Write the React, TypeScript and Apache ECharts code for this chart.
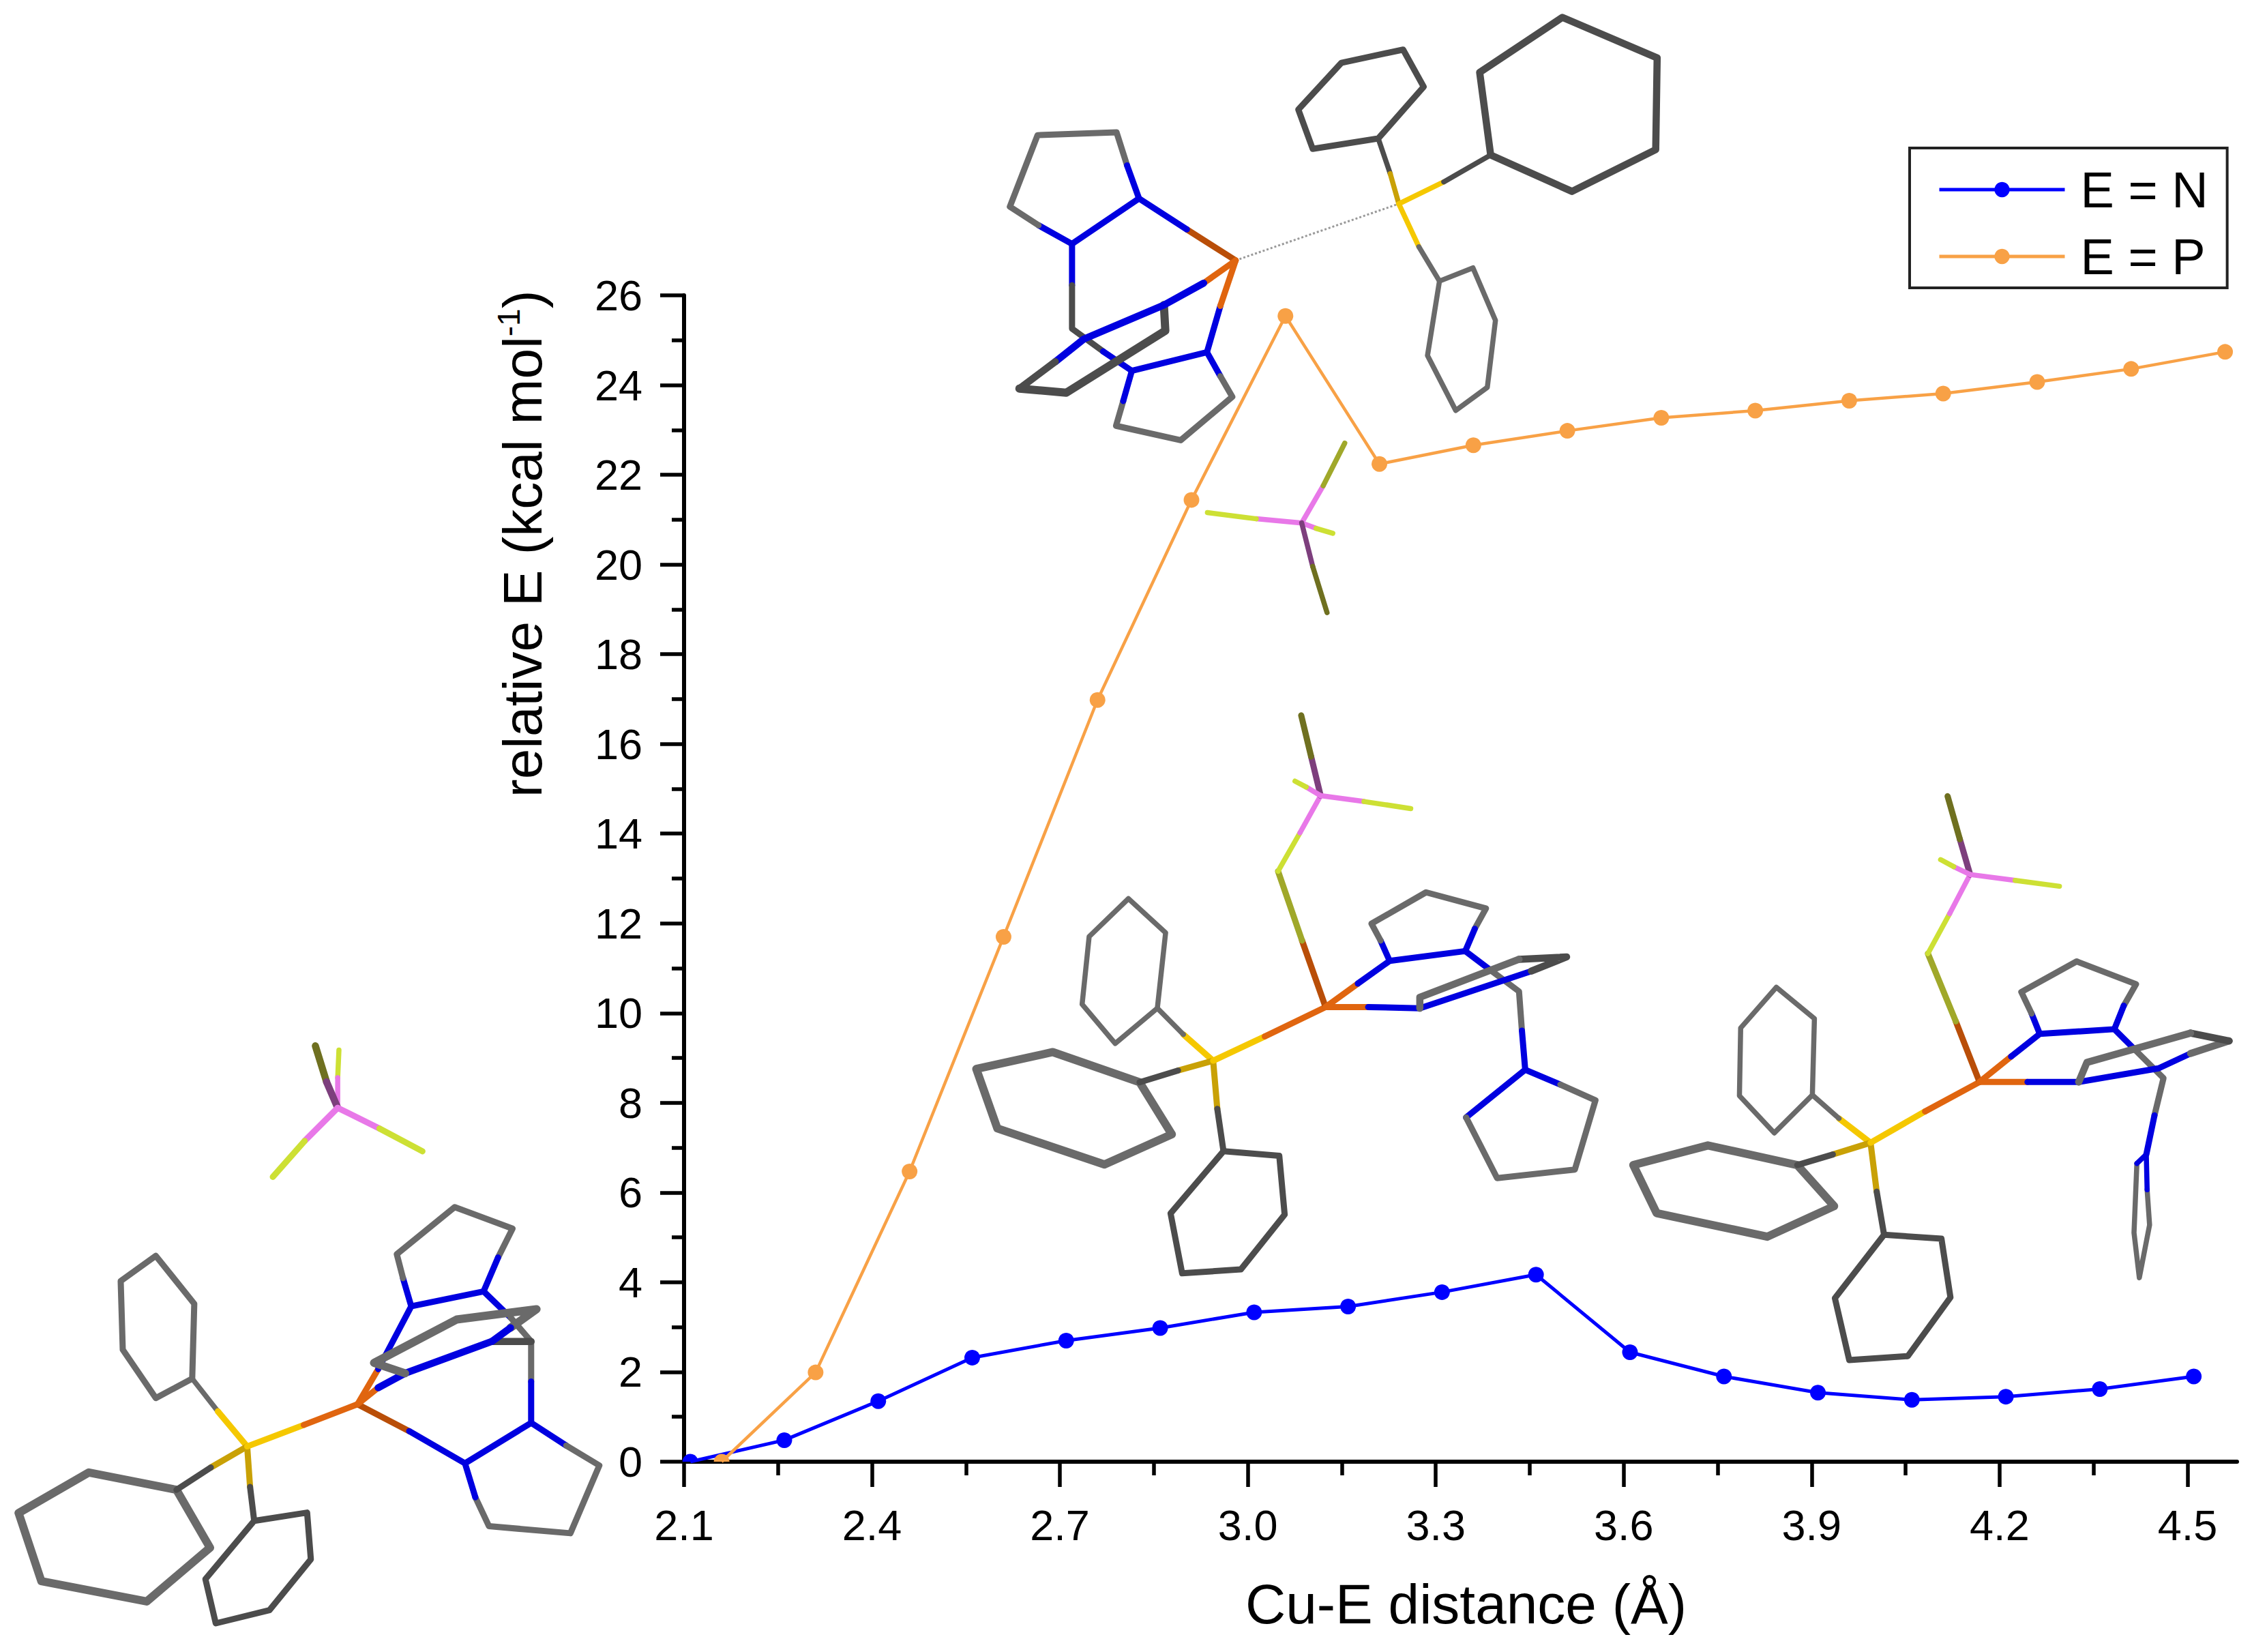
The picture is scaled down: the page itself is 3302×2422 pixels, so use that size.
import React, { useEffect, useRef } from "react";
import * as echarts from "echarts";

const FONT = "Liberation Sans";
const xTickLabels = [2.1, 2.4, 2.7, 3.0, 3.3, 3.6, 3.9, 4.2, 4.5];
const xMinorTicks = [2.25, 2.55, 2.85, 3.15, 3.45, 3.75, 4.05, 4.35];

const nDistance = [2.11, 2.26, 2.41, 2.56, 2.71, 2.86, 3.01, 3.16, 3.31, 3.46, 3.61, 3.76, 3.91, 4.06, 4.21, 4.36, 4.51];
const nEnergy = [0, 0.48, 1.35, 2.32, 2.7, 2.98, 3.33, 3.46, 3.78, 4.17, 2.44, 1.9, 1.54, 1.38, 1.45, 1.62, 1.9];
const pDistance = [2.16, 2.31, 2.46, 2.61, 2.76, 2.91, 3.06, 3.21, 3.36, 3.51, 3.66, 3.81, 3.96, 4.11, 4.26, 4.41, 4.56];
const pEnergy = [0, 1.99, 6.47, 11.7, 16.98, 21.44, 25.54, 22.24, 22.66, 22.98, 23.27, 23.43, 23.65, 23.81, 24.07, 24.36, 24.74];

// Palette of the molecule drawings
const G = "#6a6a6a", D = "#4c4c4c", B = "#0000e0", O = "#e0650f", R = "#b94e08";
const Y = "#f5c800", A = "#c9a106", P = "#e878e8", V = "#7d3f7d", L = "#cde034", W = "#6f7020", H = "#a0a82a";
const BOND_SCALE = 1.5;
type Chain = [string, number, number[][]];

// Each molecule is traced in its own local frame: origin and scale map it onto the page.
const moleculeA: Chain[] = [
  [L, 5, [[817, 165], [820, 98]]], [P, 5, [[817, 238], [817, 165]]],
  [W, 7, [[790, 175], [763, 88]]], [V, 7, [[817, 238], [790, 175]]],
  [P, 6, [[817, 238], [737, 318]]], [L, 6, [[737, 318], [660, 405]]],
  [P, 6, [[817, 238], [918, 288]]], [L, 6, [[918, 288], [1022, 343]]],
  [G, 6, [[465, 893], [470, 712], [377, 596], [292, 657], [297, 823], [377, 940], [465, 893]]],
  [G, 5, [[465, 893], [527, 972]]], [Y, 6, [[527, 972], [598, 1057]]],
  [G, 8, [[427, 1162], [215, 1120], [45, 1218], [100, 1383], [355, 1432], [508, 1302], [427, 1162]]],
  [A, 6, [[598, 1057], [510, 1108]]], [D, 6, [[510, 1108], [427, 1162]]],
  [D, 6, [[615, 1237], [743, 1217], [752, 1330], [652, 1453], [522, 1485], [497, 1378], [615, 1237]]],
  [A, 6, [[598, 1057], [605, 1155]]], [D, 6, [[605, 1155], [615, 1237]]],
  [Y, 6, [[598, 1057], [735, 1005]]], [O, 6, [[735, 1005], [865, 955]]],
  [R, 6, [[865, 955], [990, 1020]]], [B, 6, [[990, 1020], [1125, 1098]]],
  [O, 6, [[865, 955], [915, 870]]], [B, 6, [[915, 870], [995, 718], [1170, 682], [1235, 745]]],
  [G, 6, [[1235, 745], [1285, 803], [1285, 900]]], [B, 6, [[1285, 900], [1285, 1000], [1125, 1098]]],
  [O, 6, [[865, 955], [915, 915]]], [B, 7, [[915, 915], [980, 880], [1190, 803]]], [D, 7, [[1190, 803], [1285, 803]]],
  [B, 6, [[995, 718], [975, 650]]], [G, 6, [[975, 650], [960, 592], [1100, 478], [1240, 530], [1205, 600]]], [B, 6, [[1205, 600], [1170, 682]]],
  [B, 6, [[1285, 1000], [1370, 1055]]], [G, 6, [[1370, 1055], [1450, 1103], [1380, 1267], [1183, 1250], [1150, 1180]]], [B, 6, [[1150, 1180], [1125, 1098]]],
  [G, 8, [[980, 880], [905, 855], [1105, 750], [1298, 725], [1235, 770]]], [B, 7, [[1235, 770], [1190, 803]]],
];
const moleculeB: Chain[] = [
  [D, 7, [[1120, 375], [1097, 175], [1270, 42], [1468, 140], [1465, 362], [1290, 463], [1120, 375]]],
  [D, 6, [[885, 335], [980, 210], [937, 120], [808, 152], [718, 265], [748, 360], [885, 335]]],
  [G, 5, [[1013, 680], [1083, 648], [1130, 775], [1113, 937], [1047, 993], [988, 860], [1013, 680]]],
  [D, 5, [[885, 335], [910, 420]]], [A, 5, [[910, 420], [928, 493]]],
  [Y, 5, [[928, 493], [1022, 440]]], [D, 5, [[1022, 440], [1120, 375]]],
  [Y, 5, [[928, 493], [970, 597]]], [G, 5, [[970, 597], [1013, 680]]],
  [R, 6, [[587, 630], [485, 555]]], [B, 6, [[485, 555], [385, 480], [245, 590], [175, 545]]],
  [G, 6, [[175, 545], [115, 500], [173, 327], [338, 320], [360, 400]]], [B, 6, [[360, 400], [385, 480]]],
  [B, 6, [[245, 590], [245, 690]]], [D, 6, [[245, 690], [245, 795], [310, 850]]], [B, 6, [[310, 850], [370, 897], [527, 852], [555, 740]]],
  [O, 6, [[555, 740], [587, 630]]],
  [B, 6, [[527, 852], [555, 910]]], [G, 6, [[555, 910], [580, 960], [472, 1065], [337, 1030], [352, 970]]], [B, 6, [[352, 970], [370, 897]]],
  [D, 8, [[135, 940], [233, 950], [440, 800], [437, 738]]],
  [O, 6, [[587, 630], [520, 685]]], [B, 7, [[520, 685], [437, 738], [270, 820], [210, 875]]], [D, 7, [[210, 875], [135, 940]]],
  [P, 5, [[725, 1265], [630, 1255]]], [L, 5, [[630, 1255], [528, 1240]]],
  [P, 5, [[725, 1265], [770, 1175]]], [H, 5, [[770, 1175], [815, 1072]]],
  [P, 5, [[725, 1265], [755, 1278]]], [L, 5, [[755, 1278], [790, 1290]]],
  [V, 5, [[725, 1265], [748, 1370]]], [W, 5, [[748, 1370], [778, 1482]]],
];
const moleculeC: Chain[] = [
  [G, 5, [[490, 833], [510, 640], [420, 553], [325, 650], [308, 823], [388, 923], [490, 833]]],
  [G, 8, [[447, 1022], [237, 945], [52, 988], [103, 1140], [362, 1232], [525, 1155], [447, 1022]]],
  [D, 6, [[650, 1198], [785, 1210], [798, 1360], [692, 1500], [550, 1510], [522, 1357], [650, 1198]]],
  [Y, 6, [[625, 967], [553, 900]]], [G, 5, [[553, 900], [490, 833]]],
  [A, 6, [[625, 967], [540, 992]]], [D, 6, [[540, 992], [447, 1022]]],
  [A, 6, [[625, 967], [635, 1090]]], [D, 6, [[635, 1090], [650, 1198]]],
  [Y, 6, [[625, 967], [750, 905]]], [O, 6, [[750, 905], [897, 830]]],
  [R, 6, [[897, 830], [840, 660]]], [H, 6, [[840, 660], [782, 483]]],
  [L, 5, [[782, 483], [835, 385]]], [P, 5, [[835, 385], [885, 290]]],
  [V, 6, [[885, 290], [862, 190]]], [W, 6, [[862, 190], [838, 85]]],
  [P, 5, [[885, 290], [850, 268]]], [L, 5, [[850, 268], [823, 253]]],
  [P, 5, [[885, 290], [990, 305]]], [L, 5, [[990, 305], [1103, 323]]],
  [O, 6, [[897, 830], [975, 770]]], [B, 6, [[975, 770], [1052, 712], [1235, 687], [1295, 735]]],
  [G, 6, [[1295, 735], [1365, 790], [1372, 890]]], [B, 6, [[1372, 890], [1380, 990], [1237, 1112]]],
  [B, 6, [[1052, 712], [1030, 660]]], [G, 6, [[1030, 660], [1008, 617], [1140, 537], [1285, 578], [1258, 630]]], [B, 6, [[1258, 630], [1235, 687]]],
  [B, 6, [[1380, 990], [1465, 1028]]], [G, 6, [[1465, 1028], [1550, 1068], [1500, 1245], [1312, 1267], [1237, 1112]]],
  [O, 6, [[897, 830], [1000, 830]]], [B, 6, [[1000, 830], [1125, 833], [1395, 738]]],
  [D, 7, [[1395, 738], [1480, 702], [1365, 708]]], [G, 7, [[1365, 708], [1125, 805], [1125, 833]]],
];
const moleculeD: Chain[] = [
  [G, 5, [[495, 828], [500, 633], [407, 553], [320, 657], [317, 830], [402, 925], [495, 828]]],
  [G, 8, [[458, 1007], [240, 957], [58, 1007], [115, 1130], [385, 1190], [548, 1112], [458, 1007]]],
  [D, 6, [[670, 1185], [810, 1195], [832, 1345], [728, 1495], [585, 1505], [550, 1347], [670, 1185]]],
  [Y, 6, [[637, 950], [560, 888]]], [G, 5, [[560, 888], [495, 828]]],
  [A, 6, [[637, 950], [545, 980]]], [D, 6, [[545, 980], [458, 1007]]],
  [A, 6, [[637, 950], [652, 1075]]], [D, 6, [[652, 1075], [670, 1185]]],
  [Y, 6, [[637, 950], [770, 870]]], [O, 6, [[770, 870], [903, 795]]],
  [R, 6, [[903, 795], [845, 640]]], [H, 6, [[845, 640], [777, 467]]],
  [L, 5, [[777, 467], [830, 365]]], [P, 5, [[830, 365], [880, 265]]],
  [V, 6, [[880, 265], [855, 175]]], [W, 6, [[855, 175], [825, 65]]],
  [P, 5, [[880, 265], [840, 245]]], [L, 5, [[840, 245], [808, 227]]],
  [P, 5, [[880, 265], [990, 280]]], [L, 5, [[990, 280], [1098, 295]]],
  [O, 6, [[903, 795], [980, 730]]], [B, 6, [[980, 730], [1050, 672], [1232, 660], [1280, 710]]],
  [G, 6, [[1280, 710], [1352, 785], [1330, 880]]], [B, 6, [[1330, 880], [1310, 980]]],
  [B, 6, [[1050, 672], [1030, 620]]], [G, 6, [[1030, 620], [1005, 565], [1140, 487], [1285, 545], [1255, 600]]], [B, 6, [[1255, 600], [1232, 660]]],
  [G, 5, [[1287, 1003], [1280, 1180], [1293, 1295], [1318, 1160], [1312, 1070]]], [B, 5, [[1312, 1070], [1310, 980], [1287, 1003]]],
  [O, 6, [[903, 795], [1020, 795]]], [B, 6, [[1020, 795], [1145, 795], [1340, 760], [1418, 722]]],
  [G, 7, [[1418, 722], [1512, 690]]], [D, 7, [[1512, 690], [1418, 670]]], [G, 7, [[1418, 670], [1165, 745], [1145, 795]]],
];
const placedMolecules: [Chain[], number, number, number, number][] = [
  [moleculeA, 0, 1480, 1.65, 1.65],
  [moleculeB, 1400, 0, 1.4255, 1.65],
  [moleculeC, 1400, 1000, 1.65, 1.742],
  [moleculeD, 2360, 1130, 1.6645, 1.742],
];
const dottedBond = [[587, 630], [928, 493]];

function moleculeGraphics() {
  const out: any[] = [];
  placedMolecules.forEach(([chains, ox, oy, sx, sy]) => {
    const map = (p: number[]) => [ox + p[0] / sx, oy + p[1] / sy];
    if (chains === moleculeB) {
      const [a, b] = dottedBond.map(map);
      out.push({ type: "line", silent: true, shape: { x1: a[0], y1: a[1], x2: b[0], y2: b[1] }, style: { stroke: "#999", lineWidth: 3, lineDash: [3, 3] } });
    }
    chains.forEach(([color, width, pts]) => {
      out.push({
        type: "polyline", silent: true, shape: { points: pts.map(map) },
        style: { stroke: color, lineWidth: width * BOND_SCALE, fill: null, lineJoin: "round", lineCap: "round" },
      });
    });
  });
  return out;
}

const HALF_DISC = "path://M0 10A10 10 0 0 1 20 10Z";
function seriesData(xs: number[], ys: number[]) {
  return xs.map((x, i) =>
    ys[i] === 0
      ? { value: [x, ys[i]], symbol: HALF_DISC, symbolSize: [23, 11.5], symbolOffset: [0, -5.7] }
      : { value: [x, ys[i]] });
}

export default function App() {
  const ref = useRef<HTMLDivElement>(null);
  useEffect(() => {
    document.body.style.margin = "0";
    const chart = echarts.init(ref.current!, undefined, { renderer: "svg" });
    const axisBase = { onZero: false };
    chart.setOption({
      animation: false,
      backgroundColor: "#fff",
      textStyle: { fontFamily: FONT },
      grid: { left: 1003, top: 433, width: 2277, height: 1710, containLabel: false },
      legend: {
        left: 2800, top: 217, orient: "vertical",
        padding: [24, 28, 9, 41], itemGap: 24, itemWidth: 184, itemHeight: 28,
        borderColor: "#222", borderWidth: 4, backgroundColor: "#fff",
        lineStyle: { width: 5 },
        textStyle: { fontFamily: FONT, fontSize: 74, lineHeight: 72, color: "#000", padding: [0, 0, 0, 18] },
        data: ["E = N", "E = P"],
      },
      xAxis: [
        {
          type: "value", position: "bottom", min: 2.1, max: 4.579, z: 3,
          name: "Cu-E distance (Å)", nameLocation: "middle", nameGap: 167,
          nameTextStyle: { fontFamily: FONT, fontSize: 82, color: "#000", padding: [0, 0, 0, 16] },
          axisLine: { ...axisBase, show: true, lineStyle: { color: "#000", width: 6 } },
          axisTick: { show: true, length: 37, customValues: xTickLabels, lineStyle: { color: "#000", width: 5.5 } },
          axisLabel: { margin: 61, fontFamily: FONT, fontSize: 63, color: "#000", customValues: xTickLabels, formatter: (v: number) => v.toFixed(1) },
          splitLine: { show: false },
        },
        {
          type: "value", position: "bottom", min: 2.1, max: 4.579, z: 3,
          axisLine: { ...axisBase, show: false },
          axisTick: { show: true, length: 20, customValues: xMinorTicks, lineStyle: { color: "#000", width: 5.5 } },
          axisLabel: { show: false },
          splitLine: { show: false },
        },
      ],
      yAxis: {
        type: "value", min: 0, max: 26, interval: 2, z: 3,
        name: "relative E (kcal mol{sup|-1})", nameLocation: "middle", nameGap: 194,
        nameTextStyle: {
          fontFamily: FONT, fontSize: 80, color: "#000", align: "left", padding: [0, 0, 0, 119],
          rich: { sup: { fontFamily: FONT, fontSize: 46, color: "#000", verticalAlign: "top", padding: [0, 0, 40, 0] } },
        },
        axisLine: { ...axisBase, show: true, lineStyle: { color: "#000", width: 6 } },
        axisTick: { show: true, length: 35, lineStyle: { color: "#000", width: 5.5 } },
        minorTick: { show: true, splitNumber: 2, length: 18, lineStyle: { color: "#000", width: 5.5 } },
        axisLabel: { margin: 61, fontFamily: FONT, fontSize: 63, color: "#000" },
        splitLine: { show: false }, minorSplitLine: { show: false },
      },
      series: [
        {
          name: "E = N", type: "line", xAxisIndex: 0, symbol: "circle", symbolSize: 23,
          lineStyle: { color: "#0000ff", width: 5 }, itemStyle: { color: "#0000ff" },
          data: seriesData(nDistance, nEnergy),
        },
        {
          name: "E = P", type: "line", xAxisIndex: 0, symbol: "circle", symbolSize: 23,
          lineStyle: { color: "#f8a146", width: 4.5 }, itemStyle: { color: "#f8a146" },
          data: seriesData(pDistance, pEnergy),
        },
      ],
      graphic: moleculeGraphics(),
    });
    return () => chart.dispose();
  }, []);
  return <div ref={ref} style={{ position: "absolute", left: 0, top: 0, width: 3302, height: 2422 }} />;
}
